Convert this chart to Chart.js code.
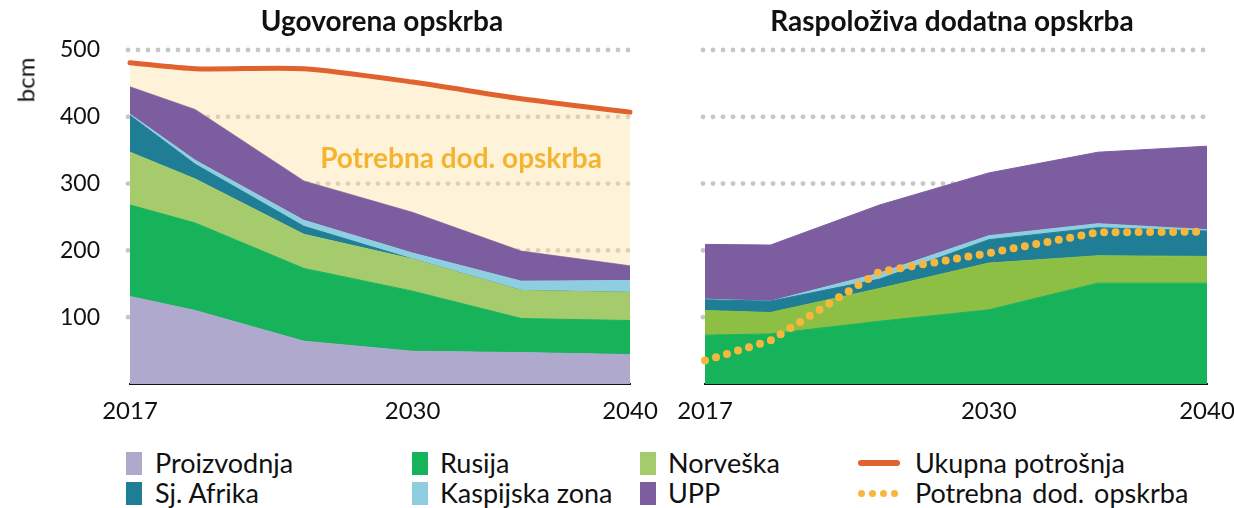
<!DOCTYPE html>
<html>
<head>
<meta charset="utf-8">
<script src="https://cdn.jsdelivr.net/npm/chart.js@4/dist/chart.umd.min.js"></script>
<style>
html,body{margin:0;padding:0;background:#fff;}
body{width:1234px;height:508px;position:relative;overflow:hidden;font-family:Lato,"Open Sans",sans-serif;color:#111;}
canvas{position:absolute;top:0;}
#leftCanvas{left:0;}
#rightCanvas{left:650px;}
.title{position:absolute;top:3px;font-weight:700;font-size:28px;white-space:nowrap;transform:translateX(-50%);color:#111;}
.note{position:absolute;font-weight:700;font-size:28px;color:#f5b42f;white-space:nowrap;transform:translate(-50%,-50%);}
.unit{position:absolute;left:25px;top:80px;font-size:24px;transform:translate(-50%,-50%) rotate(-90deg);color:#111;}
.leg{position:absolute;font-size:27px;color:#111;white-space:nowrap;line-height:30px;}
.sw{position:absolute;width:16px;height:23px;}
.ln{position:absolute;width:42px;height:6px;border-radius:3px;}
.dl{position:absolute;height:8px;}
.dl span{position:absolute;top:0;width:7px;height:7px;border-radius:50%;background:#f6b73c;}
</style>
</head>
<body>
<canvas id="leftCanvas" width="700" height="430"></canvas>
<canvas id="rightCanvas" width="620" height="430"></canvas>
<div class="title" style="left:382px">Ugovorena opskrba</div>
<div class="title" style="left:952px">Raspoloživa dodatna opskrba</div>
<div class="note" style="left:461px;top:157px">Potrebna dod. opskrba</div>
<div class="unit">bcm</div>

<div class="sw" style="left:126px;top:452px;background:#aea9cd"></div>
<div class="leg" style="left:155px;top:448px">Proizvodnja</div>
<div class="sw" style="left:126px;top:482px;background:#1f7e96"></div>
<div class="leg" style="left:155px;top:478px">Sj. Afrika</div>
<div class="sw" style="left:412px;top:452px;background:#17b35b"></div>
<div class="leg" style="left:440px;top:448px">Rusija</div>
<div class="sw" style="left:412px;top:482px;background:#8fcde0"></div>
<div class="leg" style="left:440px;top:478px">Kaspijska zona</div>
<div class="sw" style="left:640px;top:452px;background:#a6cb6c"></div>
<div class="leg" style="left:668px;top:448px">Norveška</div>
<div class="sw" style="left:640px;top:482px;background:#7b5da0"></div>
<div class="leg" style="left:668px;top:478px">UPP</div>
<div class="ln" style="left:858px;top:460px;background:#e1622e"></div>
<div class="leg" style="left:915px;top:448px">Ukupna potrošnja</div>
<div class="dl" style="left:858px;top:490px;width:44px"><span style="left:0"></span><span style="left:11px"></span><span style="left:22px"></span><span style="left:33px"></span></div>
<div class="leg" style="left:915px;top:478px;word-spacing:3px">Potrebna dod. opskrba</div>

<script>
// ---- data ----
const years = [2017, 2020, 2025, 2030, 2035, 2040];
const xTickYears = [2017, 2030, 2040];
const yTickValues = [100, 200, 300, 400, 500];

// Ugovorena opskrba (bcm)
const leftProizvodnja = [131, 110, 64, 49, 47, 44];
const leftRusija      = [137, 131, 109, 90, 51, 51];
const leftNorveska    = [79, 66, 51, 48, 42, 42];
const leftSjAfrika    = [55, 22, 12, 0, 0, 0];
const leftKaspijska   = [2, 6, 9, 9, 14, 18];
const leftUPP         = [41, 76, 59, 61, 45, 22];
const leftUkupna      = [481, 472, 472, 452, 427, 407];

// Raspoloživa dodatna opskrba (bcm)
const rightRusija     = [73, 75, 94, 111, 151, 151];
const rightNorveska   = [37, 32, 49, 70, 41, 40];
const rightSjAfrika   = [16, 17, 14, 35, 42, 38];
const rightKaspijska  = [1, 0, 9, 6, 6, 2];
const rightUPP        = [82, 84, 102, 94, 107, 125];
const rightPotrebna   = [35, 65, 168, 196, 227, 228];

// ---- styles ----
const C = {
  prod:'#aea9cd', rus:'#17b35b', norL:'#a6cb6c', norR:'#8dbf45', sja:'#1f7e96',
  kasp:'#8fcde0', upp:'#7b5da0', total:'#e1622e', need:'rgba(252,224,162,0.42)', dots:'#f6b73c'
};
const pts = arr => years.map((x, i) => ({x, y: arr[i]}));
function area(label, arr, color, first) {
  return {label, data: pts(arr), backgroundColor: color, borderColor: color, borderWidth: 1,
    fill: first ? 'origin' : '-1', stack: 'supply', pointRadius: 0, tension: 0};
}

const dotGrid = {
  id: 'dotGrid',
  beforeDatasetsDraw(chart) {
    const {ctx, chartArea: a, scales: {y}} = chart;
    ctx.save();
    ctx.fillStyle = '#c6c6c6';
    yTickValues.forEach(v => {
      const py = y.getPixelForValue(v);
      for (let px = a.left - 2; px <= a.right + 1; px += 10) {
        ctx.beginPath(); ctx.arc(px, py, 2.4, 0, Math.PI * 2); ctx.fill();
      }
    });
    ctx.restore();
  }
};

function makeChart(id, datasets, o) {
  return new Chart(document.getElementById(id), {
    type: 'line',
    data: {datasets},
    options: {
      responsive: false, animation: false, maintainAspectRatio: false,
      layout: {padding: {top: 50, right: o.padRight, left: 0, bottom: 0}},
      plugins: {legend: {display: false}, tooltip: {enabled: false}},
      scales: {
        x: {
          type: 'linear', min: 2017, max: 2040,
          grid: {display: false, drawTicks: false},
          border: {display: true, color: '#111', width: 2},
          afterBuildTicks: s => { s.ticks = xTickYears.map(v => ({value: v})); },
          afterFit: s => { s.height = 46; },
          ticks: {autoSkip: false, maxRotation: 0, padding: 13, color: '#111',
            font: {family: 'Lato', size: 24}, callback: v => String(v)}
        },
        y: {
          stacked: true, min: 0, max: 500,
          grid: {display: false, drawTicks: false},
          border: {display: false},
          afterBuildTicks: s => { s.ticks = yTickValues.map(v => ({value: v})); },
          afterFit: s => { s.width = o.yWidth; },
          ticks: {display: o.showY, padding: 30, color: '#111', font: {family: 'Lato', size: 23}}
        }
      }
    },
    plugins: [dotGrid]
  });
}

makeChart('leftCanvas', [
  area('Proizvodnja', leftProizvodnja, C.prod, true),
  area('Rusija', leftRusija, C.rus),
  area('Norveška', leftNorveska, C.norL),
  area('Sj. Afrika', leftSjAfrika, C.sja),
  area('Kaspijska zona', leftKaspijska, C.kasp),
  area('UPP', leftUPP, C.upp),
  {label: 'Ukupna potrošnja', data: pts(leftUkupna), stack: 'total', order: -1,
   borderColor: C.total, borderWidth: 5, borderCapStyle: 'round', borderJoinStyle: 'round',
   backgroundColor: C.need, fill: '-1', pointRadius: 0, tension: 0.25, clip: false}
], {padRight: 70, yWidth: 130, showY: true});

makeChart('rightCanvas', [
  area('Rusija', rightRusija, C.rus, true),
  area('Norveška', rightNorveska, C.norR),
  area('Sj. Afrika', rightSjAfrika, C.sja),
  area('Kaspijska zona', rightKaspijska, C.kasp),
  area('UPP', rightUPP, C.upp),
  {label: 'Potrebna dod. opskrba', data: pts(rightPotrebna), stack: 'need', order: -1,
   borderColor: C.dots, borderWidth: 8, borderDash: [0, 11.5], borderCapStyle: 'round',
   fill: false, pointRadius: 0, tension: 0, clip: false}
], {padRight: 63, yWidth: 55, showY: false});
</script>
</body>
</html>
